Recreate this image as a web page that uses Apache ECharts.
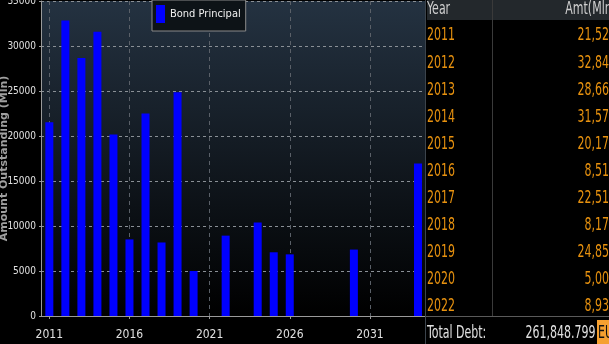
<!DOCTYPE html>
<html><head><meta charset="utf-8">
<script src="https://cdn.jsdelivr.net/npm/echarts@6/dist/echarts.min.js"></script>
<style>html,body{margin:0;padding:0;background:#000;}#c{width:609px;height:344px;}</style>
</head><body><div id="c"></div>
<script>
const years = [2011,2012,2013,2014,2015,2016,2017,2018,2019,2020,2022,2024,2025,2026,2030,2034];
const amounts = [21520,32840,28660,31570,20170,8510,22510,8170,24850,5000,8930,10400,7080,6850,7380,16950];
const xTickYears = [2011,2016,2021,2026,2031];
const tableRows = 11;
const totalDebt = '261,848.799';
const currency = 'EUR';
const seriesName = 'Bond Principal';

const chart = echarts.init(document.getElementById('c'), null, {renderer:'canvas'});
const narrow = '"Liberation Sans Narrow","DejaVu Sans Condensed",sans-serif';
const fmt = v => v.toLocaleString('en-US');

const graphic = [];
graphic.push({type:'rect', shape:{x:426, y:0, width:183, height:344}, style:{fill:'#000'}, z:100});
graphic.push({type:'rect', shape:{x:427, y:0, width:182, height:20}, style:{fill:'#23282c'}, z:101});
graphic.push({type:'line', shape:{x1:425.5, y1:0, x2:425.5, y2:344}, style:{stroke:'#3c444c', lineWidth:1}, z:102});
graphic.push({type:'line', shape:{x1:492.5, y1:0, x2:492.5, y2:316}, style:{stroke:'#3a3a3a', lineWidth:1}, z:102});
graphic.push({type:'line', shape:{x1:426, y1:316.5, x2:609, y2:316.5}, style:{stroke:'#5a5a5a', lineWidth:1}, z:102});
const T = (x, y, text, color, align) => ({
  type:'text', x:x, y:y, scaleX:0.72, z:103,
  style:{text:text, fill:color, font:'17px ' + narrow, align:align, verticalAlign:'middle'}
});
graphic.push(T(427, 10, 'Year', '#cfcfcf', 'left'));
graphic.push(T(616, 10, 'Amt(Mln)', '#cfcfcf', 'right'));
for (let i = 0; i < tableRows; i++) {
  const y = 36 + i * 27.1;
  graphic.push(T(427, y, String(years[i]), '#e8920f', 'left'));
  graphic.push(T(616, y, fmt(amounts[i]), '#e8920f', 'right'));
}
graphic.push(T(427, 334, 'Total Debt:', '#e0e0e0', 'left'));
graphic.push(T(595.5, 334, totalDebt, '#e0e0e0', 'right'));
graphic.push({type:'rect', shape:{x:597, y:320, width:12, height:24}, style:{fill:'#f5a030'}, z:103});
graphic.push(T(598, 334, currency, '#111', 'left'));

chart.setOption({
  backgroundColor:'#000',
  animation:false,
  graphic: graphic,
  legend:{
    left:152, top:0, padding:[5,5,8,4],
    backgroundColor:'#0d1317', borderColor:'#8a8a8a', borderWidth:1, borderRadius:0,
    itemWidth:9, itemHeight:18, icon:'rect', itemGap:4,
    textStyle:{color:'#f0f0f0', fontSize:11, fontFamily:narrow},
    data:[seriesName]
  },
  grid:{
    left:41, right:183, top:1, bottom:28, show:true, borderWidth:0,
    containLabel:false, outerBoundsMode:'none',
    backgroundColor: new echarts.graphic.LinearGradient(0,0,0,1,[
      {offset:0, color:'#243241'}, {offset:1, color:'#000000'}])
  },
  xAxis:{
    type:'value', min:2010.48, max:2034.5,
    axisLine:{show:true, lineStyle:{color:'#9a9a9a', width:1}},
    axisTick:{show:true, length:3, customValues:xTickYears, lineStyle:{color:'#9a9a9a'}},
    axisLabel:{customValues:xTickYears, color:'#e0e0e0', fontSize:12, fontFamily:narrow, margin:13, formatter: v => String(v)},
    splitLine:{show:true, lineStyle:{color:'#5a6068', type:[4,4], width:1}}
  },
  yAxis:{
    type:'value', min:0, max:35000, interval:5000,
    name:'Amount Outstanding (Mln)', nameLocation:'middle', nameGap:31, nameMoveOverlap:false,
    nameTextStyle:{color:'#a0a0a0', fontSize:11, fontWeight:'bold', fontFamily:'"DejaVu Sans",sans-serif'},
    axisLine:{show:true, lineStyle:{color:'#9a9a9a', width:1}},
    axisTick:{show:true, length:2, lineStyle:{color:'#9a9a9a'}},
    axisLabel:{color:'#e0e0e0', fontSize:10, fontFamily:narrow, margin:5, formatter: v => String(v)},
    splitLine:{show:true, lineStyle:{color:'#8a9096', type:[3,3], width:1}}
  },
  series:[{
    name:seriesName, type:'bar', barWidth:8,
    itemStyle:{color:'#0000ff'},
    data: years.map((y,i)=>[y, amounts[i]])
  }]
});
</script></body></html>
